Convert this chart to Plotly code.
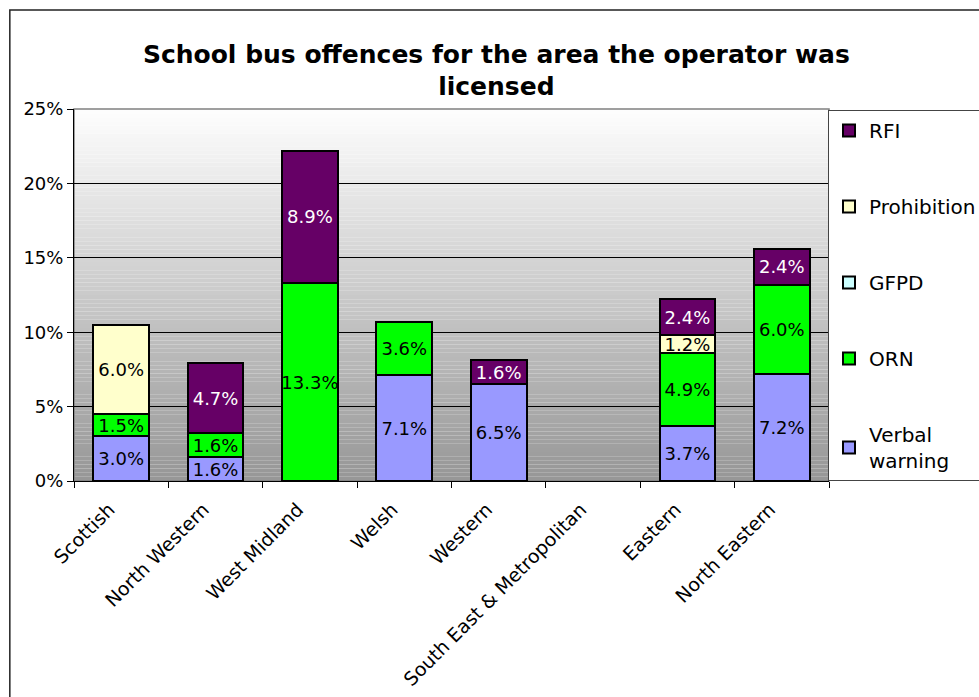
import plotly.graph_objects as go

categories = ["Scottish", "North Western", "West Midland", "Welsh", "Western",
              "South East & Metropolitan", "Eastern", "North Eastern"]
verbal_warning = [3.0, 1.6, None, 7.1, 6.5, None, 3.7, 7.2]
orn = [1.5, 1.6, 13.3, 3.6, None, None, 4.9, 6.0]
gfpd = [None, None, None, None, None, None, None, None]
prohibition = [6.0, None, None, None, None, None, 1.2, None]
rfi = [None, 4.7, 8.9, None, 1.6, None, 2.4, 2.4]

series = [
    ("Verbal<br>warning", verbal_warning, "#9999ff", "black", 5),
    ("ORN", orn, "#00ff00", "black", 4),
    ("GFPD", gfpd, "#ccffff", "black", 3),
    ("Prohibition", prohibition, "#ffffcc", "black", 2),
    ("RFI", rfi, "#660066", "white", 1),
]

FONT = "DejaVu Sans, Verdana, sans-serif"

fig = go.Figure()
for i, (name, vals, color, tcolor, rank) in enumerate(series):
    fig.add_trace(go.Bar(
        x=categories, y=vals, name=name,
        marker=dict(color=color, line=dict(color="black", width=2)),
        texttemplate="%{y:.1f}%", textposition="inside",
        insidetextanchor="middle", textangle=0, constraintext="none",
        textfont=dict(family=FONT, size=18, color=tcolor),
        legendgroup=str(i), legendrank=rank,
    ))

# gradient plot background
shapes = []
N = 90
top, bot = 254, 150
for k in range(N):
    c = int(round(top + (bot - top) * (k + 0.5) / N))
    shapes.append(dict(type="rect", xref="paper", yref="paper",
                       x0=0, x1=1, y0=1 - (k + 1) / N, y1=1 - k / N,
                       fillcolor=f"rgb({c},{c},{c})", line=dict(width=0),
                       layer="below"))
# plot area border
shapes.append(dict(type="rect", xref="paper", yref="paper", x0=0, x1=1, y0=0, y1=1,
                   line=dict(color="#808080", width=1.5), layer="below"))
# outer chart border
shapes.append(dict(type="rect", xref="paper", yref="paper",
                   x0=-0.085, x1=1.4, y0=-0.9, y1=1.266,
                   line=dict(color="#222222", width=1.5), layer="below"))

fig.update_layout(
    barmode="stack",
    bargap=0.41,
    width=979, height=697,
    margin=dict(l=74, r=150, t=109, b=216, autoexpand=False),
    paper_bgcolor="white",
    plot_bgcolor="rgba(0,0,0,0)",
    font=dict(family=FONT, color="black"),
    title=dict(text="School bus offences for the area the operator was<br>licensed",
               x=0.507, xanchor="center", y=0.91, yanchor="middle",
               font=dict(family=FONT, size=25, color="black", weight="bold")),
    shapes=shapes,
    showlegend=True,
    legend=dict(xref="container", yref="container",
                x=828 / 979, xanchor="left", y=1 - 110 / 697, yanchor="top",
                traceorder="grouped", tracegroupgap=47, maxheight=650,
                bordercolor="#444444", borderwidth=1, bgcolor="white",
                font=dict(family=FONT, size=20, color="black"),
                itemwidth=30),
)
fig.update_yaxes(range=[0, 25], dtick=5, ticksuffix="%",
                 showgrid=True, gridcolor="black", gridwidth=1,
                 showline=True, linecolor="black", linewidth=1,
                 ticks="outside", ticklen=6, tickcolor="black",
                 tickfont=dict(family=FONT, size=18), zeroline=False)
fig.update_xaxes(tickangle=-45, ticks="outside", tickson="boundaries", ticklen=6,
                 tickcolor="black", showline=True, linecolor="black", linewidth=1,
                 ticklabelstandoff=9, ticklabelshift=-12,
                 tickfont=dict(family=FONT, size=19))

fig.write_html("out.html", post_script="document.body.style.margin='0';",
               config={"displayModeBar": False})
